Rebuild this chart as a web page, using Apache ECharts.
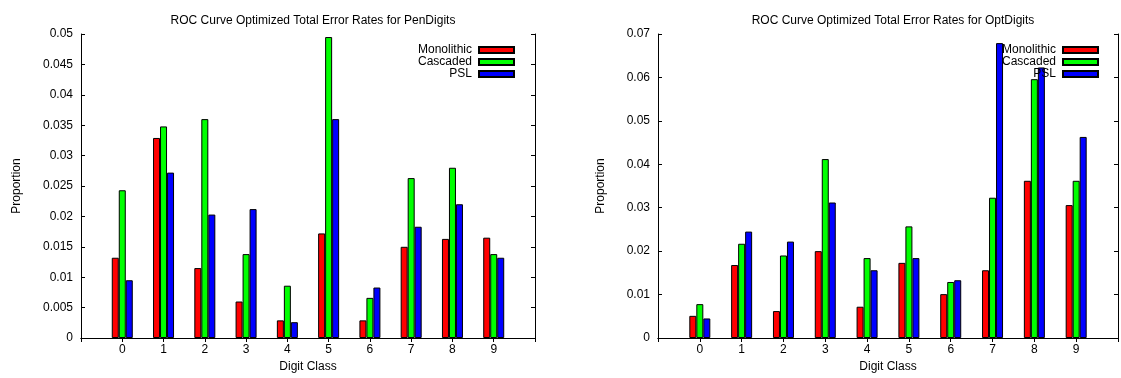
<!DOCTYPE html>
<html>
<head>
<meta charset="utf-8">
<style>
  html, body { margin: 0; padding: 0; background: #fff; }
  #chart { width: 1121px; height: 378px; }
</style>
<script src="https://cdn.jsdelivr.net/npm/echarts@6/dist/echarts.min.js"></script>
</head>
<body>
<div id="chart"></div>
<script>
// digit classes on the x axis
var digits = ['0', '1', '2', '3', '4', '5', '6', '7', '8', '9'];
var seriesNames = ['Monolithic', 'Cascaded', 'PSL'];

// PenDigits error rates
var penMono = [0.0132, 0.0329, 0.0115, 0.0060, 0.0029, 0.0172, 0.0029, 0.0150, 0.0163, 0.0165];
var penCasc = [0.0243, 0.0348, 0.0360, 0.0138, 0.0086, 0.0495, 0.0066, 0.0263, 0.0280, 0.0138];
var penPsl  = [0.0095, 0.0272, 0.0203, 0.0212, 0.0026, 0.0360, 0.0083, 0.0183, 0.0220, 0.0132];

// OptDigits error rates
var optMono = [0.0051, 0.0168, 0.0062, 0.0200, 0.0072, 0.0173, 0.0101, 0.0156, 0.0362, 0.0306];
var optCasc = [0.0078, 0.0217, 0.0190, 0.0412, 0.0184, 0.0257, 0.0129, 0.0323, 0.0596, 0.0362];
var optPsl  = [0.0045, 0.0245, 0.0222, 0.0312, 0.0156, 0.0184, 0.0133, 0.0679, 0.0623, 0.0463];

var colors = ['#ff0000', '#00ff00', '#0000ff'];
var font = 'Liberation Sans, Arial, sans-serif';

// gnuplot style range runs from -1 to 10, so pad with empty slots
var xCats = [''].concat(digits, ['']);
function pad(arr) { return ['-'].concat(arr, ['-']); }

function fmt(v) { return String(+v.toFixed(4)); }

function xAxes(gridIndex) {
  return [
    {
      type: 'category', gridIndex: gridIndex, data: xCats, boundaryGap: false,
      name: 'Digit Class', nameLocation: 'middle', nameGap: 23,
      nameTextStyle: { fontFamily: font, fontSize: 12, color: '#000' },
      axisLine: { lineStyle: { color: '#000', width: 1 } },
      axisTick: { inside: true, length: 4, lineStyle: { color: '#000' } },
      axisLabel: { interval: 0, margin: 6, fontFamily: font, fontSize: 12, color: '#000' },
      splitLine: { show: false }
    },
    {
      type: 'category', gridIndex: gridIndex, data: xCats, boundaryGap: false, position: 'top',
      axisLine: { lineStyle: { color: '#000', width: 1 } },
      axisTick: { inside: true, length: 4, lineStyle: { color: '#000' } },
      axisLabel: { show: false },
      splitLine: { show: false }
    }
  ];
}

function yAxes(gridIndex, max, step, gap) {
  return [
    {
      type: 'value', gridIndex: gridIndex, min: 0, max: max, interval: step,
      name: 'Proportion', nameLocation: 'middle', nameGap: gap, nameRotate: 90,
      nameTextStyle: { fontFamily: font, fontSize: 12, color: '#000' },
      axisLine: { show: true, lineStyle: { color: '#000', width: 1 } },
      axisTick: { show: true, inside: true, length: 4, lineStyle: { color: '#000' } },
      axisLabel: { margin: 8, fontFamily: font, fontSize: 12, color: '#000', formatter: fmt },
      splitLine: { show: false }
    },
    {
      type: 'value', gridIndex: gridIndex, min: 0, max: max, interval: step, position: 'right',
      axisLine: { show: true, lineStyle: { color: '#000', width: 1 } },
      axisTick: { show: true, inside: true, length: 4, lineStyle: { color: '#000' } },
      axisLabel: { show: false },
      splitLine: { show: false }
    }
  ];
}

function bars(values, xIdx, yIdx) {
  return values.map(function (vals, i) {
    return {
      name: seriesNames[i], type: 'bar', xAxisIndex: xIdx, yAxisIndex: yIdx,
      data: pad(vals), barWidth: 7, barGap: '0%',
      itemStyle: { color: colors[i], borderColor: '#000', borderWidth: 1 },
      animation: false
    };
  });
}

function legend(right) {
  return {
    orient: 'vertical', right: right, top: 39, align: 'right',
    itemWidth: 35, itemHeight: 6, itemGap: 0, icon: 'rect',
    textStyle: { fontFamily: font, fontSize: 12, color: '#000', lineHeight: 12, padding: [0, 2, 0, 0] },
    selectedMode: false,
    data: seriesNames
  };
}

var chart = echarts.init(document.getElementById('chart'), null, { renderer: 'canvas' });

chart.setOption({
  backgroundColor: '#fff',
  animation: false,
  color: colors,
  title: [
    { text: 'ROC Curve Optimized Total Error Rates for PenDigits', left: 308, top: 10, textAlign: 'center',
      textStyle: { fontFamily: font, fontSize: 12, fontWeight: 'normal', color: '#000' } },
    { text: 'ROC Curve Optimized Total Error Rates for OptDigits', left: 888, top: 10, textAlign: 'center',
      textStyle: { fontFamily: font, fontSize: 12, fontWeight: 'normal', color: '#000' } }
  ],
  legend: [legend(601), legend(17)],
  grid: [
    { left: 81, top: 34, width: 454, height: 307 },
    { left: 658, top: 34, width: 461, height: 307 }
  ],
  xAxis: xAxes(0).concat(xAxes(1)),
  yAxis: yAxes(0, 0.05, 0.005, 58).concat(yAxes(1, 0.07, 0.01, 51)),
  series: bars([penMono, penCasc, penPsl], 0, 0).concat(bars([optMono, optCasc, optPsl], 2, 2))
});
</script>
</body>
</html>
